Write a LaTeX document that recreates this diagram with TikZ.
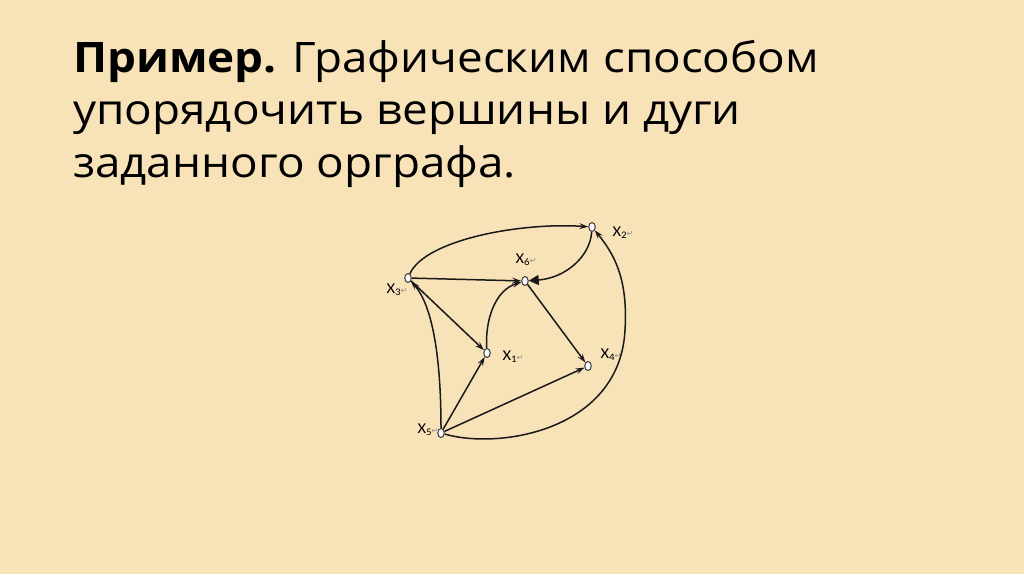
\documentclass[tikz,border=0pt]{standalone}
\usepackage{fontspec}
\setmainfont{Open Sans}
\newfontfamily\titlefont[FakeStretch=1.09]{Open Sans}
\newfontfamily\labfont[FakeStretch=1.1]{Carlito}
\newfontfamily\symfont{DejaVu Sans}
\usetikzlibrary{arrows.meta,shapes.geometric}
\definecolor{bgcol}{RGB}{248,226,184}
\definecolor{edgecol}{RGB}{25,25,25}
\definecolor{retcol}{RGB}{140,140,140}
\newcommand{\vlab}[1]{\labfont\fontsize{15}{15}\selectfont X\raisebox{-2pt}{\fontsize{10}{10}\selectfont #1}{\fontsize{8}{8}\symfont\color{retcol}↵}}
\begin{document}
\begin{tikzpicture}[x=1pt,y=-1pt,
  vert/.style={ellipse,draw=edgecol!85,fill=white!80!blue!12,line width=1pt,minimum width=6.5pt,minimum height=9pt,inner sep=0pt},
  vlabel/.style={inner sep=0pt,anchor=center},
  tline/.style={anchor=base west,inner sep=0pt,font=\titlefont\fontsize{42}{52}\selectfont},
  arc/.style={draw=edgecol,line width=1.5pt,-{Stealth[length=9pt,width=6pt,inset=3.5pt]}},
  bigarc/.style={draw=edgecol,line width=1.5pt,-{Triangle[length=10pt,width=10pt]}}]
\useasboundingbox (0,0) rectangle (1024,574);
\fill[bgcol] (0,0) rectangle (1024,574);
\node[tline] (t1) at (73,72) {\textbf{Пример.} Графическим способом};
\node[tline] (t2) at (73,124.5) {упорядочить вершины и дуги};
\node[tline] (t3) at (73,177) {заданного орграфа.};
\node[vert] (x1) at (487,353) {};
\node[vert] (x2) at (592,227) {};
\node[vert] (x3) at (408,278) {};
\node[vert] (x4) at (588,366) {};
\node[vert] (x5) at (441,433) {};
\node[vert] (x6) at (525,281) {};
\node[vlabel] (l1) at (513,357) {\vlab{1}};
\node[vlabel] (l2) at (623,233) {\vlab{2}};
\node[vlabel] (l3) at (397,290) {\vlab{3}};
\node[vlabel] (l4) at (611,355) {\vlab{4}};
\node[vlabel] (l5) at (428,430) {\vlab{5}};
\node[vlabel] (l6) at (526,260) {\vlab{6}};
\draw[arc] (x3) .. controls (425,240) and (520,222) .. (x2);
\draw[bigarc] (x2) .. controls (590,257) and (565,278) .. (x6);
\draw[arc] (x3) -- (x6);
\draw[arc] (x3) -- (x1);
\draw[arc] (x1) .. controls (485,320) and (495,290) .. (x6);
\draw[arc] (x6) -- (x4);
\draw[arc] (x5) -- (x1);
\draw[arc] (x5) -- (x4);
\draw[arc] (x5) .. controls (441,380) and (437,310) .. (x3);
\draw[arc] (x5) .. controls (500,450) and (620,430) .. (625,330) .. controls (628,280) and (615,255) .. (x2);
\end{tikzpicture}
\end{document}
